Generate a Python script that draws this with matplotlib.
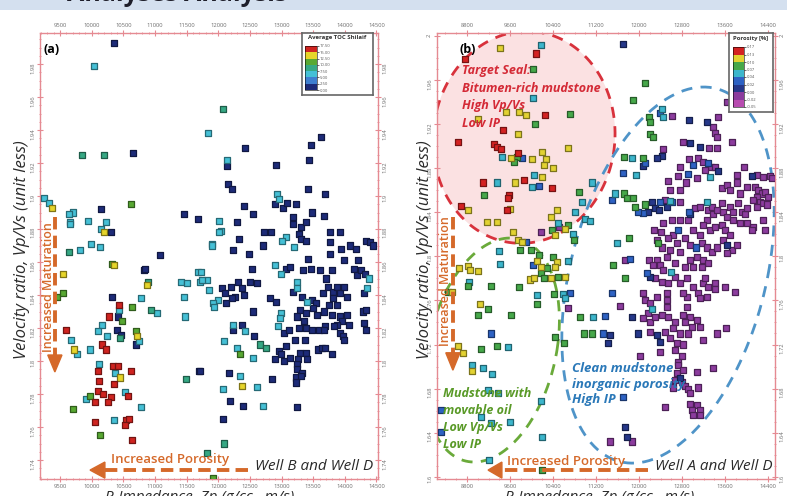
import numpy as np
import matplotlib
matplotlib.use('Agg')
import matplotlib.pyplot as plt
from matplotlib.colors import ListedColormap, BoundaryNorm, to_rgb
from matplotlib.patches import Rectangle, Polygon
from matplotlib.ticker import MultipleLocator, FormatStrFormatter
from matplotlib.cm import ScalarMappable

plt.rcParams['font.family'] = ['Open Sans', 'DejaVu Sans']

# ---------------- panel (a): Well B and Well D, coloured by average TOC ----------------
toc_class = {'navy': 1.2, 'cyan': 6.2, 'teal': 8.7, 'green': 11.2, 'yellow': 13.7, 'red': 16.2}

ip_a_navy = [10353, 10653, 10148, 10306, 11459, 11680, 11080, 10827, 10843, 10322, 10416, 10401, 10464, 10701, 11696,
             12423, 12139, 12154, 12218, 12913, 13466, 13624, 13434, 13418, 13687, 12407, 12549, 12897, 13023, 13087,
             13229, 13181, 13482, 13671, 13181, 13308, 13387, 12297, 12328, 12723, 12834, 12707, 13276, 13308, 13387,
             12233, 12486, 13766, 13924, 13766, 13940, 14082, 14177, 14335, 14398, 14445, 13418, 13766, 13987, 14208,
             12534, 13071, 13134, 13339, 13466, 13608, 13798, 13703, 14145, 14193, 14256, 14319, 14303, 12060, 12107,
             12202, 12312, 12376, 12407, 12502, 12265, 12218, 12123, 12613, 13181, 13324, 13482, 13545, 13655, 13734,
             13813, 13877, 13924, 13987, 14035, 13813, 13750, 13877, 12818, 12913, 13292, 13387, 13497, 13561, 13671,
             13798, 13924, 14035, 13956, 14066, 13877, 13687, 14287, 14335, 14303, 14335, 13245, 13355, 12549, 12233,
             12376, 13039, 13118, 13276, 13387, 13482, 13592, 13671, 13829, 13924, 13971, 13987, 12565, 13213, 13371,
             12960, 12992, 13071, 13292, 13387, 13576, 13640, 13687, 13798, 12897, 13039, 13134, 13260, 13403, 13245,
             12170, 11712, 13245, 13324, 13229, 13308, 12850, 13229, 12186, 12391, 13245, 12075]
vr_a_navy = [1.993, 1.926, 1.892, 1.878, 1.889, 1.886, 1.864, 1.855, 1.856, 1.839, 1.827, 1.819, 1.816, 1.810, 1.794,
             1.929, 1.918, 1.907, 1.904, 1.919, 1.931, 1.936, 1.922, 1.904, 1.901, 1.894, 1.889, 1.895, 1.893, 1.896,
             1.895, 1.887, 1.890, 1.888, 1.883, 1.881, 1.884, 1.884, 1.874, 1.878, 1.878, 1.870, 1.877, 1.874, 1.873,
             1.867, 1.865, 1.878, 1.878, 1.872, 1.868, 1.870, 1.868, 1.873, 1.872, 1.870, 1.862, 1.865, 1.861, 1.861,
             1.856, 1.856, 1.857, 1.855, 1.856, 1.855, 1.855, 1.850, 1.856, 1.852, 1.855, 1.853, 1.841, 1.844, 1.841,
             1.845, 1.848, 1.844, 1.840, 1.848, 1.839, 1.838, 1.835, 1.847, 1.842, 1.839, 1.837, 1.835, 1.841, 1.845,
             1.842, 1.845, 1.841, 1.845, 1.839, 1.838, 1.834, 1.834, 1.838, 1.836, 1.831, 1.829, 1.832, 1.828, 1.830,
             1.828, 1.827, 1.828, 1.824, 1.822, 1.822, 1.821, 1.830, 1.831, 1.823, 1.819, 1.827, 1.824, 1.830, 1.819,
             1.822, 1.817, 1.819, 1.820, 1.820, 1.819, 1.819, 1.819, 1.821, 1.817, 1.815, 1.813, 1.815, 1.813, 1.813,
             1.806, 1.804, 1.809, 1.805, 1.805, 1.807, 1.808, 1.808, 1.804, 1.801, 1.800, 1.802, 1.801, 1.801, 1.798,
             1.793, 1.794, 1.795, 1.793, 1.790, 1.791, 1.789, 1.787, 1.776, 1.773, 1.772, 1.765]

ip_a_cyan = [10037, 11838, 9247, 9326, 9705, 9642, 9658, 9658, 9942, 10227, 10148, 9990, 9816, 10132, 11412, 11507,
             11680, 11712, 11823, 11854, 10780, 11459, 10432, 11033, 11475, 10164, 10100, 10243, 10748, 9674, 9769,
             9974, 10116, 10369, 10527, 9911, 10780, 10353, 12139, 12929, 12960, 12012, 12044, 12012, 11902, 11902,
             13071, 13008, 13197, 12897, 12992, 14382, 14351, 11728, 11744, 11996, 11917, 11933, 13245, 13245, 13403,
             12992, 12976, 12944, 12233, 12423, 12091, 12297, 12549, 12344, 12075, 12613, 12707]
vr_a_cyan = [1.979, 1.938, 1.899, 1.896, 1.890, 1.889, 1.884, 1.883, 1.885, 1.884, 1.880, 1.871, 1.867, 1.869, 1.848, 1.847,
             1.854, 1.848, 1.849, 1.843, 1.838, 1.839, 1.831, 1.829, 1.827, 1.822, 1.818, 1.815, 1.812, 1.813, 1.804,
             1.807, 1.798, 1.793, 1.781, 1.777, 1.772, 1.764, 1.922, 1.901, 1.898, 1.885, 1.879, 1.878, 1.871, 1.870,
             1.875, 1.873, 1.869, 1.858, 1.853, 1.850, 1.844, 1.854, 1.849, 1.837, 1.835, 1.833, 1.848, 1.844, 1.836,
             1.829, 1.826, 1.821, 1.822, 1.818, 1.812, 1.808, 1.802, 1.791, 1.783, 1.784, 1.773]

ip_a_teal = [9848, 10195, 9642, 10890, 10938, 10448, 11491, 11823, 12075, 12660, 12755, 12091]
vr_a_teal = [1.925, 1.925, 1.866, 1.848, 1.831, 1.814, 1.789, 1.744, 1.953, 1.810, 1.808, 1.750]

ip_a_green = [10622, 10322, 9453, 9547, 10638, 10480, 10701, 9974, 9705, 10132, 11917, 12344]
vr_a_green = [1.895, 1.859, 1.839, 1.841, 1.833, 1.824, 1.818, 1.779, 1.771, 1.755, 1.729, 1.804]

ip_a_yellow = [9374, 10195, 10353, 9547, 10875, 10717, 9721, 10448, 12376]
vr_a_yellow = [1.893, 1.878, 1.858, 1.853, 1.846, 1.815, 1.807, 1.790, 1.785]

ip_a_red = [10432, 10274, 9595, 10164, 10227, 10100, 10337, 10416, 10622, 10116, 10353, 10100, 10179, 10574, 10306,
            10258, 10053, 10053, 10543, 10590, 10527, 10638]
vr_a_red = [1.834, 1.827, 1.819, 1.810, 1.807, 1.794, 1.797, 1.797, 1.794, 1.788, 1.786, 1.782, 1.780, 1.779, 1.778,
            1.775, 1.775, 1.763, 1.764, 1.765, 1.761, 1.752]

toc_bounds = [0.0, 2.5, 5.0, 7.5, 10.0, 12.5, 15.0, 17.5]
toc_colors = ['#1d2b78', '#3f7fd0', '#45c0d6', '#36a884', '#58a832', '#e6d52a', '#cf2420']

# ---------------- panel (b): Well A and Well D, coloured by porosity ----------------
phi_class = {'purple': -0.01, 'navy': 0.01, 'blue': 0.03, 'cyan': 0.055, 'green': 0.085, 'yellow': 0.115, 'red': 0.15}

ip_b_red = [8763, 10083, 10251, 9470, 8633, 9302, 9358, 9432, 9749, 9098, 9860, 10381, 9581, 9563, 8688, 9544]
vr_b_red = [1.979, 1.984, 1.928, 1.915, 1.904, 1.902, 1.899, 1.897, 1.894, 1.867, 1.869, 1.862, 1.856, 1.853, 1.846, 1.842]

ip_b_yellow = [9414, 9005, 9525, 9767, 9897, 9749, 10195, 10679, 9618, 10009, 10269, 10232, 10400, 10195, 9693, 8819,
               9600, 10474, 9172, 9358, 10362, 10623, 9656, 10437, 9749, 9823, 10474, 10102, 8819, 8856, 8651, 9005,
               10176, 10437, 9972, 10046, 10362, 10623, 8521, 9042, 8633, 8726, 8893]
vr_b_yellow = [1.989, 1.925, 1.931, 1.931, 1.928, 1.911, 1.895, 1.898, 1.889, 1.888, 1.888, 1.883, 1.880, 1.872, 1.867, 1.842,
               1.843, 1.842, 1.831, 1.831, 1.836, 1.825, 1.822, 1.819, 1.815, 1.813, 1.795, 1.796, 1.791, 1.788, 1.789, 1.787,
               1.790, 1.790, 1.779, 1.780, 1.780, 1.781, 1.768, 1.757, 1.719, 1.712, 1.696]

ip_b_green = [10028, 10716, 10065, 9730, 9674, 9116, 10883, 10381, 10679, 10790, 9786, 9990, 10139, 10400, 10288, 10176,
              10232, 10493, 8819, 9246, 9767, 8447, 10418, 9005, 9191, 9618, 10102, 10902, 9060, 9358, 10437, 10604,
              10976, 11125, 10195, 12111, 11888, 12185, 12204, 12204, 12260, 11720, 12074, 11720, 11776, 11888, 11925,
              12111, 11813, 12353, 11516, 11739]
vr_b_green = [1.970, 1.929, 1.920, 1.890, 1.886, 1.856, 1.858, 1.824, 1.828, 1.815, 1.806, 1.806, 1.801, 1.799, 1.789, 1.785,
              1.780, 1.781, 1.773, 1.773, 1.772, 1.768, 1.766, 1.747, 1.752, 1.747, 1.757, 1.745, 1.716, 1.719, 1.727, 1.721,
              1.730, 1.730, 1.606, 1.957, 1.942, 1.926, 1.922, 1.911, 1.908, 1.890, 1.889, 1.857, 1.853, 1.853, 1.845,
              1.847, 1.817, 1.812, 1.792, 1.780]

ip_b_cyan = [10176, 10028, 9451, 10046, 9358, 10009, 11125, 10939, 10809, 10995, 11088, 10493, 10772, 9395, 10679, 9414,
             8837, 10102, 10586, 10623, 11144, 9563, 8893, 9098, 9265, 9377, 9191, 9060, 9246, 9600, 10176, 10195, 9209,
             12427, 12446, 11869, 11943, 13320, 11553, 12576, 13264, 11590, 12594, 12241]
vr_b_cyan = [1.992, 1.944, 1.890, 1.874, 1.867, 1.863, 1.867, 1.849, 1.840, 1.834, 1.832, 1.830, 1.820, 1.805, 1.796, 1.793,
             1.777, 1.765, 1.766, 1.762, 1.745, 1.718, 1.701, 1.699, 1.693, 1.676, 1.679, 1.654, 1.649, 1.650, 1.669, 1.636, 1.615,
             1.934, 1.926, 1.889, 1.874, 1.872, 1.857, 1.850, 1.849, 1.812, 1.786, 1.752]

ip_b_blue = [9823, 10139, 9897, 10028, 10716, 9246, 8316, 8316, 12390, 12111, 11702, 13004, 13283, 12911, 11497, 12074,
             11981, 12390, 12613, 12929, 12725, 13059, 11832, 12148, 11497, 11367, 11702, 11330]
vr_b_blue = [1.889, 1.864, 1.813, 1.792, 1.767, 1.730, 1.641, 1.661, 1.930, 1.885, 1.876, 1.883, 1.885, 1.875, 1.851, 1.839,
             1.840, 1.849, 1.849, 1.840, 1.824, 1.808, 1.798, 1.785, 1.767, 1.746, 1.672, 1.730]

ip_b_navy = [11702, 13264, 12929, 12948, 13134, 12427, 12334, 12074, 13469, 14101, 12241, 12167, 12297, 12520, 12371,
             12948, 13636, 12204, 11869, 11981, 12334, 12390, 12762, 11739, 11776, 11423, 11460]
vr_b_navy = [1.993, 1.922, 1.924, 1.903, 1.899, 1.891, 1.889, 1.882, 1.877, 1.873, 1.849, 1.840, 1.844, 1.845, 1.842,
             1.838, 1.810, 1.781, 1.745, 1.730, 1.729, 1.722, 1.690, 1.645, 1.636, 1.721, 1.729]

ip_b_purple = [10511, 10176, 10679, 13636, 12613, 13469, 13376, 13413, 13450, 12818, 13301, 13450, 13729, 12446, 12539,
               12929, 13097, 12762, 13190, 13338, 13413, 13227, 13078, 12873, 12725, 12762, 12576, 13952, 13822, 13822,
               14008, 14194, 14306, 14436, 14473, 13543, 13636, 13692, 13878, 14157, 14213, 14287, 14343, 14399, 14194,
               14120, 14250, 14306, 14380, 14194, 12483, 12762, 13041, 13134, 13283, 13357, 13376, 13450, 13543, 13562,
               13636, 13692, 13748, 13841, 13915, 13971, 14008, 13748, 13878, 14008, 14120, 14101, 14306, 14343, 13264,
               13190, 13320, 13413, 13543, 13599, 13692, 13562, 13134, 13004, 12911, 12762, 12613, 12446, 12278, 12408,
               12334, 12632, 12539, 12706, 12855, 12948, 13171, 13264, 13357, 13450, 13729, 13822, 13636, 12427, 12762,
               12576, 12948, 13078, 13190, 13283, 13171, 13004, 12855, 12669, 12520, 12334, 12185, 12260, 12390, 12446,
               12669, 11739, 12297, 12427, 12539, 12762, 12892, 13004, 13097, 13190, 13227, 13283, 13413, 13413, 13599,
               13785, 13264, 13134, 12892, 12818, 12074, 12111, 12204, 12334, 12520, 12520, 12520, 11646, 12167, 12074,
               12204, 12297, 12427, 12539, 12669, 12892, 12818, 12948, 13078, 13134, 12985, 12855, 13190, 13450, 13617,
               12204, 12483, 12632, 12762, 12911, 12576, 12706, 12818, 12669, 12390, 12018, 12799, 12725, 12725, 12706,
               12818, 12669, 12799, 12632, 12855, 12911, 12948, 13078, 13097, 13376, 12483, 12948, 13078, 13134, 12985,
               13004, 13134, 11869, 11460]
vr_b_purple = [1.827, 1.822, 1.753, 1.940, 1.927, 1.926, 1.917, 1.912, 1.908, 1.904, 1.898, 1.898, 1.904, 1.897, 1.868,
               1.888, 1.889, 1.881, 1.886, 1.881, 1.881, 1.878, 1.871, 1.867, 1.873, 1.860, 1.860, 1.881, 1.874, 1.867,
               1.863, 1.874, 1.872, 1.873, 1.871, 1.862, 1.865, 1.860, 1.857, 1.863, 1.860, 1.857, 1.858, 1.854, 1.854,
               1.851, 1.849, 1.848, 1.847, 1.845, 1.851, 1.849, 1.844, 1.845, 1.842, 1.845, 1.838, 1.842, 1.848, 1.840,
               1.836, 1.845, 1.840, 1.848, 1.840, 1.838, 1.844, 1.833, 1.830, 1.830, 1.827, 1.824, 1.833, 1.824, 1.833,
               1.828, 1.824, 1.827, 1.828, 1.824, 1.819, 1.815, 1.819, 1.824, 1.833, 1.833, 1.833, 1.830, 1.824, 1.822,
               1.815, 1.819, 1.817, 1.812, 1.817, 1.810, 1.812, 1.808, 1.804, 1.808, 1.806, 1.810, 1.803, 1.808, 1.804,
               1.806, 1.797, 1.799, 1.797, 1.794, 1.790, 1.790, 1.790, 1.794, 1.799, 1.797, 1.797, 1.792, 1.792, 1.788,
               1.781, 1.797, 1.780, 1.777, 1.776, 1.776, 1.780, 1.772, 1.767, 1.776, 1.780, 1.772, 1.776, 1.770, 1.772,
               1.768, 1.763, 1.762, 1.763, 1.767, 1.767, 1.760, 1.758, 1.763, 1.767, 1.760, 1.754, 1.755, 1.749, 1.744,
               1.740, 1.745, 1.747, 1.745, 1.740, 1.754, 1.747, 1.745, 1.742, 1.736, 1.736, 1.740, 1.724, 1.730, 1.735,
               1.731, 1.731, 1.735, 1.730, 1.730, 1.726, 1.721, 1.720, 1.715, 1.713, 1.710, 1.710, 1.704, 1.701, 1.694,
               1.697, 1.688, 1.686, 1.681, 1.682, 1.680, 1.676, 1.695, 1.681, 1.699, 1.663, 1.666, 1.665, 1.661, 1.661,
               1.656, 1.656, 1.632, 1.632]

phi_bounds = [-0.05, -0.02, 0.0, 0.02, 0.04, 0.07, 0.10, 0.13, 0.17]
phi_colors = ['#b84cb0', '#8c3c9e', '#26388a', '#2e62c4', '#3cb6cc', '#46a84a', '#e2d232', '#d42222']

orange = '#d5692a'
spine_col = '#e58a92'

cmap_a = ListedColormap(toc_colors)
norm_a = BoundaryNorm(toc_bounds, cmap_a.N)
cmap_b = ListedColormap(phi_colors)
norm_b = BoundaryNorm(phi_bounds, cmap_b.N)


def squares(ax, x, y, val, cmap, norm):
    face = cmap(norm(val))
    edge = tuple(0.55 * c for c in to_rgb(face))
    ax.scatter(x, y, s=19, marker='s', c=np.full(len(x), val), cmap=cmap, norm=norm,
               edgecolors=[edge], linewidths=0.9, zorder=3)


def ellipse(cx, cy, a, b, k):
    t = np.linspace(0, 2 * np.pi, 300)
    y = cy + b * np.sin(t)
    x = cx + a * np.cos(t) + k * (y - cy)
    return x, y


def style_axes(ax, xmaj, xmin, ymaj, ymin):
    for s in ax.spines.values():
        s.set_color(spine_col)
        s.set_linewidth(1.0)
    ax.xaxis.set_major_locator(MultipleLocator(xmaj))
    ax.xaxis.set_minor_locator(MultipleLocator(xmin))
    ax.yaxis.set_major_locator(MultipleLocator(ymaj))
    ax.yaxis.set_minor_locator(MultipleLocator(ymin))
    ax.yaxis.set_major_formatter(FormatStrFormatter('%g'))
    ax.tick_params(which='both', direction='inout', color=spine_col, top=True, right=True,
                   labeltop=True, labelright=True, labelsize=4.2, labelcolor='#707070', pad=1.5)
    ax.tick_params(which='major', length=4, width=0.8)
    ax.tick_params(which='minor', length=2, width=0.6)
    ax.tick_params(axis='y', labelrotation=90)


def vert_arrow(ax, x, y0, y1, ytip, text, xt, yt):
    ax.plot([x, x], [y0, y1], transform=ax.transAxes, color=orange, lw=2.8, ls=(0, (3.2, 1.6)),
            solid_capstyle='butt', zorder=5)
    ax.add_patch(Polygon([[x - 0.021, y1], [x + 0.021, y1], [x, ytip]], closed=True,
                         transform=ax.transAxes, color=orange, zorder=5))
    ax.text(xt, yt, text, transform=ax.transAxes, rotation=90, ha='center', va='center',
            color=orange, fontsize=9, fontweight='semibold', zorder=5)


def horiz_arrow(ax, x0, x1, xtip, y, text, xt, yt):
    ax.plot([x0, x1], [y, y], transform=ax.transAxes, color=orange, lw=2.8, ls=(0, (3.2, 1.6)),
            solid_capstyle='butt', zorder=5)
    ax.add_patch(Polygon([[x1, y - 0.018], [x1, y + 0.018], [xtip, y]], closed=True,
                         transform=ax.transAxes, color=orange, zorder=5))
    ax.text(xt, yt, text, transform=ax.transAxes, ha='center', va='center',
            color=orange, fontsize=9.5, fontweight='semibold', zorder=5)


fig = plt.figure(figsize=(7.87, 4.96), dpi=100)
fig.patches.append(Rectangle((0, 1 - 10 / 496), 1, 10 / 496, transform=fig.transFigure,
                             facecolor='#d4e0ef', edgecolor='none', zorder=0))
# page heading of the source document, mostly cut off at the top edge
fig.text(67 / 787, 1 - 1 / 496, 'Analyses Analysis', fontsize=18, fontweight='bold',
         color='#1e1e2a', va='baseline', ha='left')

axA = fig.add_axes([40 / 787, 17 / 496, 338 / 787, 446 / 496])
axB = fig.add_axes([437 / 787, 17 / 496, 338 / 787, 446 / 496])

# ---- panel (a)
squares(axA, ip_a_navy, vr_a_navy, toc_class['navy'], cmap_a, norm_a)
squares(axA, ip_a_cyan, vr_a_cyan, toc_class['cyan'], cmap_a, norm_a)
squares(axA, ip_a_teal, vr_a_teal, toc_class['teal'], cmap_a, norm_a)
squares(axA, ip_a_green, vr_a_green, toc_class['green'], cmap_a, norm_a)
squares(axA, ip_a_yellow, vr_a_yellow, toc_class['yellow'], cmap_a, norm_a)
squares(axA, ip_a_red, vr_a_red, toc_class['red'], cmap_a, norm_a)
axA.set_xlim(9184, 14524)
axA.set_ylim(1.7285, 1.9988)
style_axes(axA, 500, 100, 0.02, 0.005)

axA.text(0.009, 0.962, '(a)', transform=axA.transAxes, fontsize=9, fontweight='bold', va='center', zorder=6)
vert_arrow(axA, 0.044, 0.587, 0.278, 0.240, 'Increased Maturation', 0.024, 0.43)
horiz_arrow(axA, 0.615, 0.192, 0.148, 0.020, 'Increased Porosity', 0.385, 0.043)
axA.text(0.636, 0.027, 'Well B and Well D', transform=axA.transAxes, fontsize=11, style='italic',
         color='#2a2a2a', va='center', ha='left', zorder=6)

# ---- panel (b)
xr, yr = ellipse(9860, 1.908, 1693, 0.0962, 600)
axB.fill(xr, yr, color='#fbe1e2', zorder=1, lw=0)
axB.plot(xr, yr, color='#d8323c', lw=2, ls=(0, (4, 3)), zorder=2)
xg, yg = ellipse(9265, 1.715, 1209, 0.1016, 3280)
axB.plot(xg, yg, color='#6aaa3a', lw=2, ls=(0, (4, 3)), zorder=2)
xb, yb = ellipse(12539, 1.783, 1860, 0.1706, 3894)
axB.plot(xb, yb, color='#4f94c8', lw=2, ls=(0, (4, 3)), zorder=2)

squares(axB, ip_b_purple, vr_b_purple, phi_class['purple'], cmap_b, norm_b)
squares(axB, ip_b_navy, vr_b_navy, phi_class['navy'], cmap_b, norm_b)
squares(axB, ip_b_blue, vr_b_blue, phi_class['blue'], cmap_b, norm_b)
squares(axB, ip_b_cyan, vr_b_cyan, phi_class['cyan'], cmap_b, norm_b)
squares(axB, ip_b_green, vr_b_green, phi_class['green'], cmap_b, norm_b)
squares(axB, ip_b_yellow, vr_b_yellow, phi_class['yellow'], cmap_b, norm_b)
squares(axB, ip_b_red, vr_b_red, phi_class['red'], cmap_b, norm_b)
axB.set_xlim(8242, 14529)
axB.set_ylim(1.598, 2.0026)
style_axes(axB, 800, 200, 0.04, 0.01)

axB.text(0.068, 0.964, '(b)', transform=axB.transAxes, fontsize=9, fontweight='bold', va='center', zorder=6)
axB.text(0.074, 0.93, 'Target Seal:\nBitumen-rich mudstone\nHigh Vp/Vs\nLow IP', transform=axB.transAxes,
         fontsize=9, fontweight='bold', style='italic', color='#d42a36', va='top', ha='left',
         linespacing=1.45, zorder=6)
axB.text(0.018, 0.207, 'Mudstone with\nmovable oil\nLow Vp/Vs\nLow IP', transform=axB.transAxes,
         fontsize=9, fontweight='bold', style='italic', color='#5a9a28', va='top', ha='left',
         linespacing=1.4, zorder=6)
axB.text(0.399, 0.262, 'Clean mudstone\ninorganic porosity\nHigh IP', transform=axB.transAxes,
         fontsize=9.5, fontweight='bold', style='italic', color='#2a78b8', va='top', ha='left',
         linespacing=1.25, zorder=6)
vert_arrow(axB, 0.047, 0.587, 0.283, 0.244, 'Increased Maturation', 0.024, 0.444)
horiz_arrow(axB, 0.624, 0.192, 0.151, 0.020, 'Increased Porosity', 0.383, 0.040)
axB.text(0.645, 0.027, 'Well A and Well D', transform=axB.transAxes, fontsize=11, style='italic',
         color='#2a2a2a', va='center', ha='left', zorder=6)

# axis titles (partly cut off at the bottom as in the source figure)
for xc in (22, 425):
    fig.text(xc / 787, 1 - 250 / 496, 'Velocity ratio, Vp/Vs (unit less)', rotation=90, ha='center',
             va='center', fontsize=12, style='italic', color='#2a2a2a')
for xc in (200, 600):
    fig.text(xc / 787, 6 / 496, 'P-Impedance, Zp (g/cc . m/s)', ha='center', va='top',
             fontsize=11, style='italic', color='#2a2a2a')

# ---- colour legends
boxA = fig.add_axes([302 / 787, 1 - 95 / 496, 71 / 787, 62 / 496])
boxB = fig.add_axes([729 / 787, 1 - 112 / 496, 44 / 787, 79 / 496])
for box, title in ((boxA, 'Average TOC Shilaif'), (boxB, 'Porosity [%]')):
    box.set_xticks([])
    box.set_yticks([])
    for s in box.spines.values():
        s.set_color('#666666')
        s.set_linewidth(1.2)
    box.text(0.5, 0.96, title, transform=box.transAxes, ha='center', va='top', fontsize=4.3,
             fontweight='bold', color='#333333')

caxA = fig.add_axes([305 / 787, 1 - 90 / 496, 12 / 787, 44 / 496])
cbA = fig.colorbar(ScalarMappable(norm=norm_a, cmap=cmap_a), cax=caxA, ticks=toc_bounds)
cbA.ax.set_yticklabels(['%.2f' % v for v in toc_bounds])
caxB = fig.add_axes([733 / 787, 1 - 107 / 496, 11 / 787, 60 / 496])
cbB = fig.colorbar(ScalarMappable(norm=norm_b, cmap=cmap_b), cax=caxB, ticks=phi_bounds)
cbB.ax.set_yticklabels(['%.2f' % v for v in phi_bounds])
for cb in (cbA, cbB):
    cb.outline.set_linewidth(0.4)
    cb.ax.tick_params(labelsize=3, length=1.2, width=0.4, pad=0.8, labelcolor='#555555')

fig.savefig('out.png', dpi=100)
